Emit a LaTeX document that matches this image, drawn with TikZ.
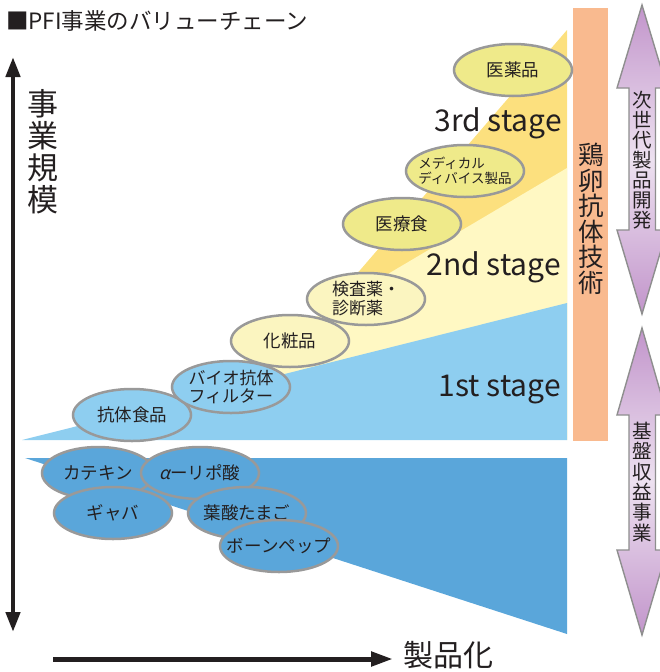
\documentclass[tikz,border=0pt]{standalone}
\usepackage{fontspec}
\setmainfont{Noto Sans CJK JP}
\newfontfamily\slantjp[FakeSlant=0.22]{Noto Sans CJK JP}
\usetikzlibrary{arrows.meta,shapes.geometric}
\definecolor{txt}{HTML}{231F20}
\definecolor{gold}{HTML}{FCE07E}
\definecolor{paleyel}{HTML}{FFF8C3}
\definecolor{lblue}{HTML}{8ECEF0}
\definecolor{dblue}{HTML}{5AA6DA}
\definecolor{ellthree}{HTML}{EFEA8A}
\definecolor{elltwo}{HTML}{FBF5C0}
\definecolor{ellgray}{HTML}{999999}
\definecolor{peach}{HTML}{F9BA8F}
\definecolor{purpD}{HTML}{C295CB}
\definecolor{purpL}{HTML}{EDE1F0}
\definecolor{purpE}{HTML}{8E8E8E}
\begin{document}
\begin{tikzpicture}[x=1pt,y=-1pt,
  ell/.style={ellipse, draw=ellgray, line width=2.5pt, minimum width=118pt,
    minimum height=52pt, inner sep=0pt},
  ellA/.style={ell, fill=ellthree},
  ellB/.style={ell, fill=elltwo},
  ellC/.style={ell, fill=lblue},
  ellD/.style={ell, fill=dblue},
  lbl/.style={align=left, text=txt, inner sep=0pt, font=\fontsize{17.5}{19}\selectfont},
  stagelbl/.style={anchor=base east, text=txt, font=\fontsize{30}{32}\selectfont, inner sep=0pt},
  vtext/.style={align=center, text=txt, inner sep=0pt},
  purparrow/.style={draw=purpE, line width=1.4pt, top color=purpD, bottom color=purpD, middle color=purpL},
  blackarrow/.style={draw=txt, line width=4.5pt}
]
\useasboundingbox (0,0) rectangle (660,672);

% background regions
\fill[gold] (324,312) -- (567,30) -- (567,440) -- cycle;
\fill[paleyel] (170,403) -- (567,168) -- (567,440) -- cycle;
\fill[lblue] (22,440) -- (567,303) -- (567,440) -- cycle;
\fill[dblue] (25,458) -- (567,458) -- (567,634) -- cycle;
\fill[peach] (573,8) rectangle (608,441);

% title
\node[anchor=west, text=txt, font=\fontsize{22.5}{24}\selectfont, inner sep=0pt] (title) at (6,21) {■PFI事業のバリューチェーン};

% axes
\coordinate (vt) at (13,57);
\coordinate (vb) at (13,632);
\draw[blackarrow, {Triangle[length=20pt,width=14pt]}-{Triangle[length=20pt,width=14pt]}] (vt) -- (vb);
\coordinate (hl) at (53,659);
\coordinate (hr) at (393,659);
\draw[blackarrow, line width=5pt, -{Triangle[length=22pt,width=14pt]}] (hl) -- (hr);

\node[vtext, font=\fontsize{31}{32}\selectfont] (scale) at (43,152) {事\\業\\規\\模};
\node[vtext, font=\fontsize{30}{32}\selectfont, anchor=west] (prod) at (403,655) {製品化};

% stage labels
\node[stagelbl] (s3) at (562,131) {3rd stage};
\node[stagelbl] (s2) at (561,275) {2nd stage};
\node[stagelbl] (s1) at (561,396) {1st stage};

% peach label
\node[vtext, font=\fontsize{25.5}{25.5}\selectfont] (egg) at (591,219) {鶏\\卵\\抗\\体\\技\\術};

% purple double arrows
\path[purparrow] (642,5) -- (667,88) -- (655.5,88) -- (655.5,230) -- (667,230) -- (642,314)
  -- (617,230) -- (629,230) -- (629,88) -- (617,88) -- cycle;
\path[purparrow] (642,328) -- (667,415) -- (655.5,415) -- (655.5,550) -- (667,550) -- (642,635)
  -- (617,550) -- (629,550) -- (629,415) -- (617,415) -- cycle;
\node[vtext, font=\fontsize{19.5}{20}\selectfont] (next) at (642.5,160) {次\\世\\代\\製\\品\\開\\発};
\node[vtext, font=\fontsize{19.5}{20.3}\selectfont] (base) at (642.5,482) {基\\盤\\収\\益\\事\\業};

% upper ellipses
\node[ellC, label={[lbl]center:抗体食品}] (food) at (132,415) {};
\node[ellC, label={[lbl, font=\fontsize{17}{18.5}\selectfont]center:{バイオ抗体\\フィルター}}] (filter) at (231,387) {};
\node[ellB, label={[lbl]center:化粧品}] (cosm) at (290,341) {};
\node[ellB, label={[lbl, font=\fontsize{17}{19}\selectfont]center:{検査薬・\\診断薬}}] (diag) at (366,299) {};
\node[ellA, label={[lbl]center:医療食}] (medfood) at (402,224) {};
\node[ellA, label={[lbl, font=\fontsize{13.5}{15}\selectfont]center:{メディカル\\ディバイス製品}}] (device) at (465,171) {};
\node[ellA, label={[lbl]center:医薬品}] (drug) at (513,70) {};

% lower ellipses
\node[ellD, minimum width=112pt, label={[lbl]center:カテキン}] (cat) at (98,473) {};
\node[ellD, label={[lbl]center:{{\slantjp α}ーリポ酸}}] (lipo) at (200,473) {};
\node[ellD, label={[lbl]center:ギャバ}] (gaba) at (113,513) {};
\node[ellD, label={[lbl]center:葉酸たまご}] (folic) at (247,513) {};
\node[ellD, label={[lbl]center:ボーンペップ}] (bone) at (279,546) {};
\end{tikzpicture}
\end{document}
